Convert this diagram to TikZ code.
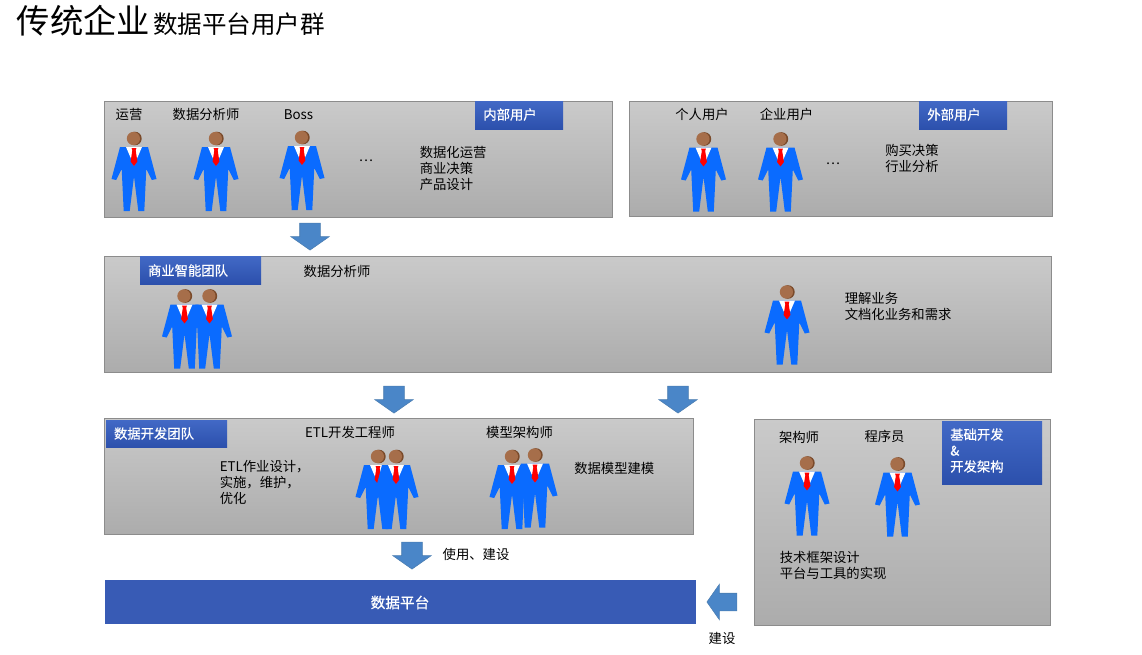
\documentclass[tikz,border=0pt]{standalone}
\usepackage{fontspec}
\setmainfont{Noto Sans CJK SC}
\newfontfamily\tagfont[FakeBold=0.6]{Noto Sans CJK SC}
\usetikzlibrary{shapes.arrows}
\definecolor{suitblue}{HTML}{0A6BFF}
\definecolor{headbrown}{HTML}{A66E4A}
\definecolor{headdark}{HTML}{7A4A2A}
\definecolor{arrowblue}{HTML}{4A86C8}
\definecolor{arrowline}{HTML}{4A7DB0}
\definecolor{tagtop}{HTML}{4269C6}
\definecolor{tagbottom}{HTML}{2C50AC}
\definecolor{platformblue}{HTML}{385BB5}
\definecolor{paneltop}{HTML}{CACACA}
\definecolor{panelbottom}{HTML}{ACACAC}
\tikzset{
  panel/.style={draw=black!45,line width=0.75pt,top color=paneltop,bottom color=panelbottom},
  tagbox/.style={draw=none,top color=tagtop,bottom color=tagbottom,text=white},
  label/.style={inner sep=0pt,font=\fontsize{10}{12}\selectfont},
  tag/.style={inner sep=0pt,text=white,font=\tagfont\fontsize{10}{12}\selectfont},
  blockarrow/.style={single arrow,draw=arrowline,line width=0.4pt,fill=arrowblue,inner ysep=0pt,inner xsep=10*0.75pt,
    minimum height=27*0.75pt,single arrow head extend=9*0.75pt,
    single arrow tip angle=110,single arrow head indent=0pt,anchor=center,shape border rotate=270},
  pics/suit/.style={code={
    \fill[headdark] (0.9,0) circle (6.8);
    \fill[headbrown] (-0.6,0) circle (6.6);
    \fill[suitblue] (-14,8.5) -- (14,8.5) -- (22.5,40.5) -- (17.8,41.5) -- (12.3,30.5) -- (10.3,72.5)
      -- (4.3,72.5) -- (0,38) -- (-4.3,72.5) -- (-10.3,72.5) -- (-12.3,30.5) -- (-17.8,41.5) -- (-22.5,40.5) -- cycle;
    \fill[white] (-8,8.5) -- (8,8.5) -- (0,27) -- cycle;
    \fill[red] (-2.4,9.5) -- (2.4,9.5) -- (1.7,12) -- (3.4,23) -- (0,27.5) -- (-3.4,23) -- (-1.7,12) -- cycle;
  }}
}
\begin{document}
\begin{tikzpicture}[x=0.75pt,y=-0.75pt]
\useasboundingbox (0,0) rectangle (1142,654);
% panels
\node[panel,minimum width=508*0.75pt,minimum height=116*0.75pt,inner sep=0pt] (innerpanel) at (358,159) {};
\node[panel,minimum width=423*0.75pt,minimum height=115*0.75pt,inner sep=0pt] (outerpanel) at (840.5,158.5) {};
\node[panel,minimum width=947*0.75pt,minimum height=116*0.75pt,inner sep=0pt] (bipanel) at (577.5,314) {};
\node[panel,minimum width=589*0.75pt,minimum height=116*0.75pt,inner sep=0pt] (devpanel) at (398.5,476) {};
\node[panel,minimum width=296*0.75pt,minimum height=206*0.75pt,inner sep=0pt] (basepanel) at (902,522) {};
\node[fill=platformblue,minimum width=591*0.75pt,minimum height=44*0.75pt,inner sep=0pt] (platform) at (400.5,602) {};
% tags
\node[tagbox,minimum width=88*0.75pt,minimum height=28*0.75pt,inner sep=0pt] (innertag) at (519,115) {};
\node[tagbox,minimum width=88*0.75pt,minimum height=28*0.75pt,inner sep=0pt] (outertag) at (963,115) {};
\node[tagbox,minimum width=121*0.75pt,minimum height=28*0.75pt,inner sep=0pt] (bitag) at (200.5,270) {};
\node[tagbox,minimum width=121*0.75pt,minimum height=27*0.75pt,inner sep=0pt] (devtag) at (166.5,433.5) {};
\node[tagbox,minimum width=100*0.75pt,minimum height=63*0.75pt,inner sep=0pt] (basetag) at (992,452.5) {};
\node[tag] (innertagtext) at (510,114.5) {内部用户};
\node[tag] (outertagtext) at (954,114.5) {外部用户};
\node[tag] (bitagtext) at (188,270.5) {商业智能团队};
\node[tag] (devtagtext) at (154,433.5) {数据开发团队};
\node[tag,align=left,anchor=west] (basetagtext) at (950,450.5) {基础开发\\\&\\开发架构};
\node[tag,font=\tagfont\fontsize{11}{13}\selectfont] (platformtext) at (400,602.5) {数据平台};
% people
\pic (p1) at (134,138.5) {suit};
\pic (p2) at (216,138.5) {suit};
\pic (p3) at (302,137.5) {suit};
\pic (p4) at (703.5,139) {suit};
\pic (p5) at (780.5,139) {suit};
\pic (p6) at (184.5,296) {suit};
\pic (p7) at (209.5,296) {suit};
\pic (p8) at (787,292) {suit};
\pic (p9) at (378,456.5) {suit};
\pic (p10) at (396,456.5) {suit};
\pic (p11) at (512,456.5) {suit};
\pic (p12) at (535,455) {suit};
\pic (p13) at (807,463) {suit};
\pic (p14) at (897.5,464) {suit};
% labels
\node[inner sep=0pt,font=\fontsize{25}{30}\selectfont] (title1) at (83.5,21) {传统企业};
\node[inner sep=0pt,font=\fontsize{18.4}{22}\selectfont] (title2) at (239,24) {数据平台用户群};
\node[label] (l1) at (129,114.5) {运营};
\node[label] (l2) at (206,114.5) {数据分析师};
\node[label] (l3) at (298.5,114.5) {Boss};
\node[label] (l4) at (366,161) {…};
\node[label,align=left,anchor=west] (l5) at (419.5,168.5) {数据化运营\\商业决策\\产品设计};
\node[label] (l6) at (702,114.5) {个人用户};
\node[label] (l7) at (786.5,114.5) {企业用户};
\node[label] (l8) at (833,164) {…};
\node[label,align=left,anchor=west] (l9) at (885,158) {购买决策\\行业分析};
\node[label] (l10) at (337,271) {数据分析师};
\node[label,align=left,anchor=west] (l11) at (844.5,306) {理解业务\\文档化业务和需求};
\node[label] (l12) at (350,432) {ETL开发工程师};
\node[label] (l13) at (519.5,432) {模型架构师};
\node[label,align=left,anchor=west] (l14) at (219.5,482) {ETL作业设计，\\实施，维护，\\优化};
\node[label,anchor=west] (l15) at (574,468) {数据模型建模};
\node[label] (l16) at (799,437) {架构师};
\node[label] (l17) at (884.5,436) {程序员};
\node[label,align=left,anchor=west] (l18) at (779.5,565) {技术框架设计\\平台与工具的实现};
\node[label] (l19) at (476,554) {使用、建设};
\node[label] (l20) at (722,638) {建设};
% arrows
\node[blockarrow] (a1) at (310,233) {};
\node[blockarrow] (a2) at (394,396) {};
\node[blockarrow] (a3) at (678,396) {};
\node[blockarrow] (a4) at (412,552) {};
\node[blockarrow,shape border rotate=180,inner xsep=0pt,inner ysep=8.5*0.75pt,minimum height=30*0.75pt] (a5) at (725,602) {};
\end{tikzpicture}
\end{document}
